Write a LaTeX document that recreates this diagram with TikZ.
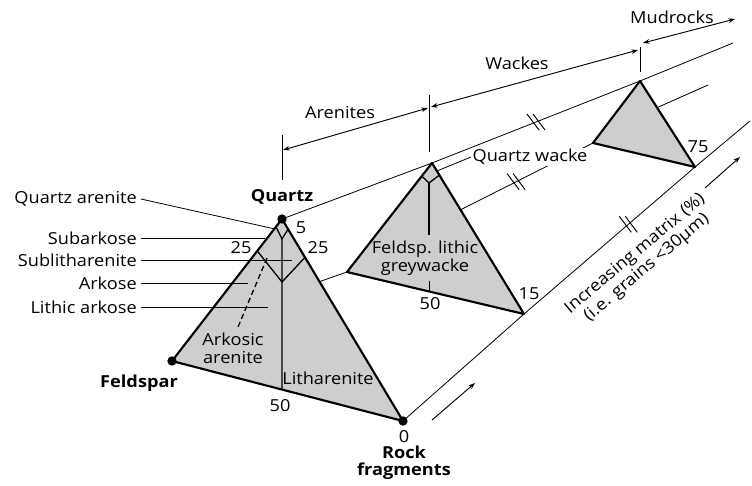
\documentclass[tikz,border=0pt]{standalone}
\usepackage{fontspec}
\setmainfont{Open Sans}[FakeStretch=1.1]
\usetikzlibrary{arrows.meta,calc}

\begin{document}
\begin{tikzpicture}[
  x=0.75pt,
  y=-0.75pt,
  >=Stealth,
  dot/.style={circle,fill=black,inner sep=0pt,minimum size=7pt},
  rim/.style={line width=1.6pt,line join=round},
  tri/.style={rim,fill=figfill},
  part/.style={line width=1pt},
  lead/.style={line width=0.6pt},
  dim/.style={line width=0.7pt,{Stealth[length=5pt,width=3.5pt]}-{Stealth[length=5pt,width=3.5pt]}},
  rise/.style={line width=0.7pt,-{Stealth[length=5pt,width=3.5pt]}},
  lbl/.style={font=\fontsize{12.4}{13.5}\selectfont,text=black,inner sep=3pt},
  vtx/.style={lbl,font=\fontsize{12.4}{13}\selectfont\bfseries},
  brkmark/.pic={
    \draw[line width=0.7pt] (-9,-8) -- (3,8);
    \draw[line width=0.7pt] (-3,-8) -- (9,8);}
]
\definecolor{figfill}{RGB}{206,206,206}
\useasboundingbox (0,0) rectangle (752,485);

% Corners of the three triangles (arenite, wacke, mudrock).
\coordinate (q1) at (282,219);
\coordinate (f1) at (172,361);
\coordinate (r1) at (403,421);
\coordinate (q2) at (432,163);
\coordinate (f2) at (347,272);
\coordinate (r2) at (524,314);
\coordinate (q3) at (640,81);
\coordinate (f3) at (593,143);
\coordinate (r3) at (695,167);

% Guide lines running back through the triangles.
\coordinate (s1) at ($(q1)!0.31!(r1)$);
\coordinate (s2) at ($(q2)!0.31!(r2)$);
\coordinate (s3) at ($(q3)!0.31!(r3)$);
\coordinate (top-end) at (733,43);
\coordinate (mid-end) at (708,85);
\coordinate (low-end) at (750,121);
\draw[lead] (q1) -- (q2) -- (q3) coordinate[pos=0.5] (brk-a) -- (top-end);
\draw[lead] (s1) -- (f2);
\draw[lead] (s2) -- (f3) coordinate[pos=0.42] (brk-b);
\draw[lead] (s3) -- (mid-end);
\draw[lead] (r1) -- (r2) -- (r3) coordinate[pos=0.61] (brk-c) -- (low-end);

\draw[tri] (q1) -- (f1) -- (r1) -- cycle;
\draw[tri] (q2) -- (f2) -- (r2) -- cycle;
\draw[tri] (q3) -- (f3) -- (r3) -- cycle;

\pic at (brk-a) {brkmark};
\pic at (brk-b) {brkmark};
\pic at (brk-c) {brkmark};

% Fields of the arenite triangle.
\coordinate (v5l) at ($(q1)!0.055!(f1)$);
\coordinate (v5b) at (282,239);
\coordinate (v5r) at ($(q1)!0.05!(r1)$);
\coordinate (v25l) at ($(q1)!0.225!(f1)$);
\coordinate (v25b) at (282,282);
\coordinate (v25r) at ($(q1)!0.19!(r1)$);
\coordinate (b50) at ($(f1)!0.476!(r1)$);
\coordinate (ark-a) at (267,258);
\coordinate (ark-b) at (238,327);
\draw[part] (v5l) -- (v5b) -- (v5r);
\draw[part] (v25l) -- (v25b) -- (v25r);
\draw[part] (v5b) -- (b50);
\draw[part,dash pattern=on 4pt off 2.5pt] (ark-a) -- (ark-b);

% Fields of the wacke triangle.
\coordinate (w5l) at ($(q2)!0.12!(f2)$);
\coordinate (w5b) at (429,183);
\coordinate (w5r) at ($(q2)!0.08!(r2)$);
\coordinate (w50) at ($(f2)!0.466!(r2)$);
\draw[part] (w5l) -- (w5b) -- (w5r);
\node[lbl,align=center,inner sep=4pt] (fgw) at (425,258) {Feldsp. lithic\\greywacke};
\draw[part] (w5b) -- (w5b |- fgw.north);
\draw[part] (w50 |- fgw.south) -- (w50);

% End members.
\node[dot] (qz) at (q1) {};
\node[dot] (fs) at (f1) {};
\node[dot] (rf) at (r1) {};
\node[vtx] (qz-l) at (282,197) {Quartz};
\node[vtx] (fs-l) at (139,383) {Feldspar};
\node[lbl] (rf-0) at (404,437) {0};
\node[vtx,align=center] (rf-l) at (404,463) {Rock\\fragments};

% Percentages.
\node[lbl] (n5) at (301,228) {5};
\node[lbl] (n25l) at (241,248) {25};
\node[lbl] (n25r) at (318,248) {25};
\node[lbl] (n50a) at (280,406) {50};
\node[lbl] (n50b) at (430,304) {50};
\node[lbl] (n15) at (529,294) {15};
\node[lbl] (n75) at (698,147) {75};

\node[lbl,align=center] (aka) at (233,348) {Arkosic\\arenite};
\node[lbl] (lit) at (328,378) {Litharenite};

% Named fields on the left, with leaders.
\node[lbl,anchor=east] (qa) at (141,199) {Quartz arenite};
\node[lbl,anchor=east] (sk) at (141,238) {Subarkose};
\node[lbl,anchor=east] (sl) at (141,260) {Sublitharenite};
\node[lbl,anchor=east] (ak) at (141,283) {Arkose};
\node[lbl,anchor=east] (la) at (141,307) {Lithic arkose};
\coordinate (qa-end) at (275,229);
\coordinate (sk-end) at (265,238);
\coordinate (sl-end) at (292,260);
\coordinate (ak-end) at (248,283);
\coordinate (la-end) at (268,307);
\draw[lead] (qa.east) -- (qa-end);
\draw[lead] (sk.east) -- (sk-end);
\draw[lead] (sl.east) -- (sl-end);
\draw[lead] (ak.east) -- (ak-end);
\draw[lead] (la.east) -- (la-end);

\node[lbl,fill=white,inner sep=1pt] (qw) at (530,157) {Quartz wacke};
\coordinate (qw-end) at (437,171);
\draw[lead] (qw.west) -- (qw-end);

% Class ranges along the top.
\coordinate (t1a) at (282,135);
\coordinate (t1b) at (282,180);
\coordinate (t2a) at (429,95);
\coordinate (t2b) at (429,152);
\coordinate (t3a) at (640,47);
\coordinate (t3b) at (640,72);
\draw[lead] (t1a) -- (t1b);
\draw[lead] (t2a) -- (t2b);
\draw[lead] (t3a) -- (t3b);
\coordinate (d1a) at (283,150);
\coordinate (d1b) at (428,108);
\coordinate (d2a) at (431,107);
\coordinate (d2b) at (638,50);
\coordinate (d3a) at (643,43);
\coordinate (d3b) at (735,19);
\draw[dim] (d1a) -- (d1b);
\draw[dim] (d2a) -- (d2b);
\draw[dim] (d3a) -- (d3b);
\node[lbl] (aren) at (340,113) {Arenites};
\node[lbl] (wack) at (517,63) {Wackes};
\node[lbl] (mudr) at (672,17) {Mudrocks};

% Matrix axis.
\coordinate (a1a) at (432,420);
\coordinate (a1b) at (475,383);
\coordinate (a2a) at (705,188);
\coordinate (a2b) at (740,157);
\draw[rise] (a1a) -- (a1b);
\draw[rise] (a2a) -- (a2b);
\node[lbl,align=center,rotate=40] (mtx) at (641,261) {Increasing matrix (\%)\\(i.e. grains <30µm)};
\end{tikzpicture}
\end{document}
